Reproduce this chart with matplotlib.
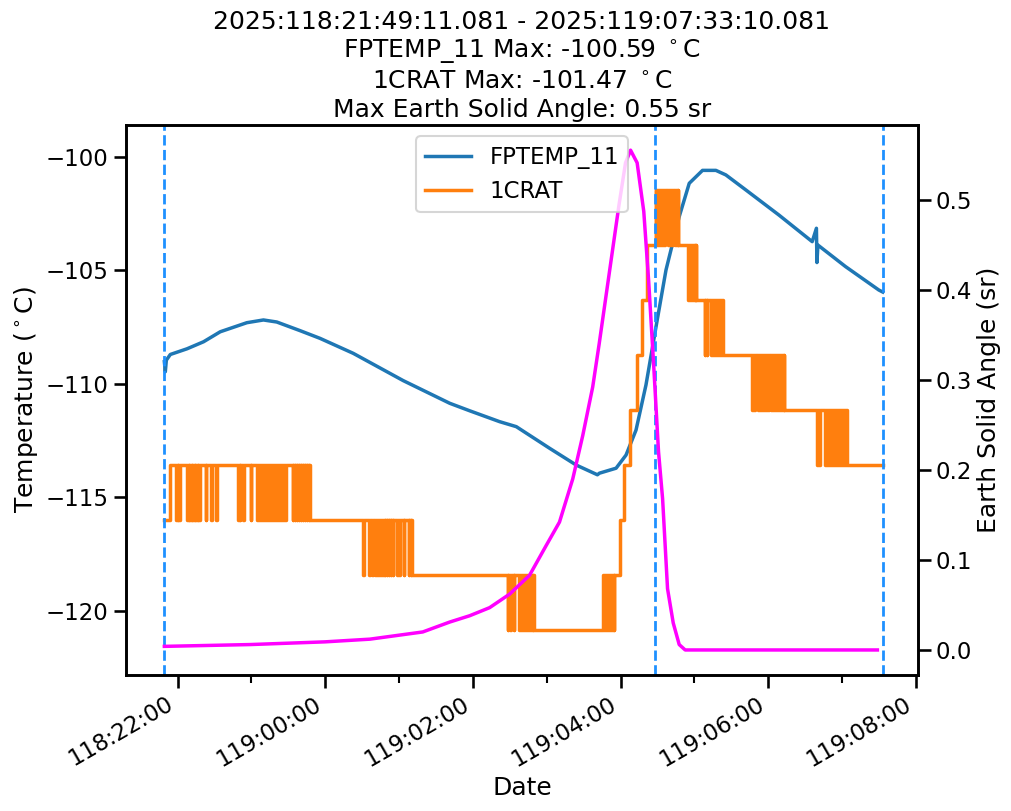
import datetime as dt
import matplotlib
matplotlib.use("Agg")
import matplotlib.pyplot as plt
import matplotlib.dates as mdates
import seaborn as sns

sns.set_context("talk")

# times are hours counted from 2025:118:00:00
DAY0 = dt.datetime(2025, 1, 1) + dt.timedelta(days=117)

# FPTEMP_11 (degC)
fp_t = [21.820, 21.833, 21.847, 21.901, 22.127, 22.351, 22.577, 22.938, 23.162, 23.343,
        23.658, 23.929, 24.379, 25.055, 25.686, 25.956, 26.362, 26.588, 27.038, 27.399,
        27.687, 27.714, 27.940, 28.075, 28.210, 28.345, 28.481, 28.616, 28.795, 28.931,
        29.111, 29.292, 29.427, 29.697, 30.147, 30.597, 30.654, 30.661, 30.674, 31.049,
        31.499, 31.553]
fp_v = [-109.02, -109.46, -108.95, -108.70, -108.45, -108.14, -107.70, -107.30, -107.18, -107.27,
        -107.65, -107.99, -108.65, -109.85, -110.85, -111.18, -111.66, -111.88, -112.83, -113.57,
        -114.00, -113.93, -113.71, -113.13, -112.03, -110.04, -107.48, -104.98, -102.63, -101.16,
        -100.59, -100.59, -100.79, -101.45, -102.56, -103.73, -103.14, -104.65, -103.88, -104.83,
        -105.86, -105.95]

# 1CRAT: level changes plus short one-sample flips to a neighbouring level
crat_change_t = [21.820, 21.901, 23.794, 25.173, 26.822, 27.910, 27.998, 28.052, 28.133,
                 28.228, 28.295, 28.363, 28.480, 28.775, 29.025, 29.384, 30.215, 31.074]
crat_change_v = [-115.99, -113.57, -115.99, -118.41, -120.83, -118.41, -115.99, -113.57, -111.15,
                 -108.73, -106.31, -103.89, -101.47, -103.89, -106.31, -108.73, -111.15, -113.57]
crat_end = 31.553
crat_dt = 0.009

flips_1 = [21.982, 22.002, 22.022, 22.131, 22.151, 22.171, 22.191, 22.212, 22.232, 22.252,
           22.272, 22.293, 22.381, 22.455, 22.523, 22.820, 22.840, 22.888, 22.989, 23.077,
           23.104, 23.131, 23.158, 23.185, 23.212, 23.239, 23.266, 23.293, 23.320, 23.347,
           23.374, 23.401, 23.428, 23.455, 23.560, 23.587, 23.614, 23.641, 23.668, 23.695,
           23.722, 23.749, 23.776]
flips_2 = [24.517, 24.591, 24.638, 24.672, 24.699, 24.726, 24.753, 24.780, 24.807, 24.834,
           24.861, 24.888, 24.915, 24.970, 24.997, 25.064, 25.132, 25.159]
flips_3 = [26.470, 26.504, 26.551, 26.626, 26.653, 26.680, 26.707, 26.734, 26.761, 26.788, 26.810]
flips_4 = [27.768, 27.795, 27.822, 27.849, 27.876, 27.898]
flips_5 = [28.485, 28.512, 28.539, 28.566, 28.593, 28.647, 28.674, 28.701, 28.741, 28.764]
flips_6 = [28.917, 28.944, 28.971, 28.998, 29.012]
flips_7 = [29.140, 29.167, 29.228, 29.255, 29.282, 29.309, 29.336, 29.363]
flips_8 = [29.782, 29.809, 29.863, 29.890, 29.917, 29.944, 29.971, 29.998, 30.039, 30.066,
           30.093, 30.120, 30.147, 30.174, 30.201]
flips_9 = [30.667, 30.694, 30.776, 30.803, 30.830, 30.857, 30.884, 30.911, 30.938, 30.965,
           30.992, 31.019, 31.046]
crat_flips = [(-115.99, flips_1), (-118.41, flips_2), (-120.83, flips_3), (-118.41, flips_4),
              (-103.89, flips_5), (-106.31, flips_6), (-108.73, flips_7), (-111.15, flips_8),
              (-113.57, flips_9)]

# Earth solid angle (sr)
esa_t = [21.820, 22.982, 23.996, 24.605, 25.321, 25.686, 25.956, 26.227, 26.497, 26.768,
         26.993, 27.173, 27.353, 27.488, 27.623, 27.711, 27.845, 27.979, 28.068, 28.136,
         28.225, 28.315, 28.381, 28.448, 28.515, 28.570, 28.637, 28.714, 28.795, 28.876, 31.480]
esa_v = [0.004, 0.006, 0.009, 0.012, 0.020, 0.031, 0.038, 0.047, 0.062, 0.083,
         0.116, 0.142, 0.190, 0.238, 0.292, 0.340, 0.417, 0.494, 0.541, 0.555,
         0.541, 0.487, 0.410, 0.318, 0.220, 0.168, 0.068, 0.030, 0.006, 0.0, 0.0]

vline_t = [21.8197, 28.471, 31.5528]


def to_dates(hours):
    return [DAY0 + dt.timedelta(hours=h) for h in hours]


def base_at(t):
    v = crat_change_v[0]
    for ct, cv in zip(crat_change_t, crat_change_v):
        if ct <= t:
            v = cv
    return v


# build the 1CRAT step series
events = list(zip(crat_change_t, crat_change_v))
for alt, flips in crat_flips:
    for t in flips:
        events.append((t, alt))
        events.append((t + crat_dt, base_at(t)))
events.sort()
events.append((crat_end, events[-1][1]))
crat_t = [e[0] for e in events]
crat_v = [e[1] for e in events]

fig = plt.figure(figsize=(10.11, 8.11), dpi=100)
ax = fig.add_subplot(111)
fig.subplots_adjust(left=0.1246, right=0.908, bottom=0.1677, top=0.8459)

l1, = ax.plot(to_dates(fp_t), fp_v, color="C0", lw=2.5, label="FPTEMP_11")
l2, = ax.plot(to_dates(crat_t), crat_v, color="C1", lw=2.5, drawstyle="steps-post", label="1CRAT")
for t in vline_t:
    ax.axvline(DAY0 + dt.timedelta(hours=t), color="dodgerblue", linestyle="--", lw=2)

ax.set_ylim(-122.82, -98.59)
ax.set_xlim(DAY0 + dt.timedelta(hours=21.3), DAY0 + dt.timedelta(hours=32.03))
ax.set_ylabel("Temperature ($^\\circ$C)")
ax.set_xlabel("Date")
ax.xaxis.set_major_locator(mdates.HourLocator(byhour=range(0, 24, 2)))
ax.xaxis.set_minor_locator(mdates.HourLocator())
ax.xaxis.set_major_formatter(mdates.DateFormatter("%j:%H:%M"))
for lab in ax.get_xticklabels():
    lab.set_rotation(30)
    lab.set_ha("right")

ax2 = ax.twinx()
ax2.plot(to_dates(esa_t), esa_v, color="magenta", lw=2.5)
ax2.set_ylabel("Earth Solid Angle (sr)")
ax2.set_ylim(-0.0278, 0.583)
ax2.legend(handles=[l1, l2], loc="upper center")

ax.set_title("2025:118:21:49:11.081 - 2025:119:07:33:10.081\n"
             "FPTEMP_11 Max: -100.59 $^\\circ$C\n"
             "1CRAT Max: -101.47 $^\\circ$C\n"
             "Max Earth Solid Angle: 0.55 sr")

fig.savefig("out.png", dpi=100)
